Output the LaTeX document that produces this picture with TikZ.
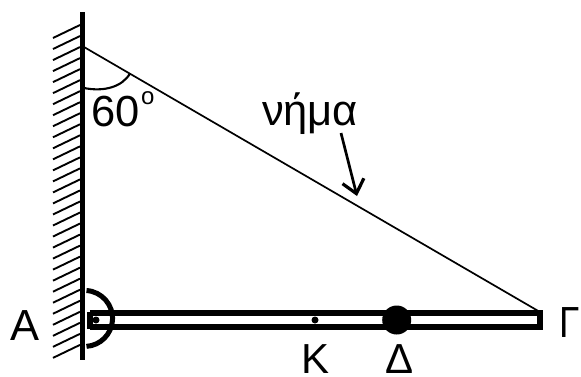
\documentclass[tikz,border=0pt]{standalone}
\usepackage{fontspec}
\setmainfont{Liberation Sans}
\usetikzlibrary{arrows.meta}
\tikzset{
  lbl/.style={anchor=base west,inner sep=0pt,outer sep=0pt,font=\fontsize{43.5}{44}\selectfont},
  wall/.style={line width=5pt},
  hatch/.style={line width=1.9pt},
  rod/.style={line width=6pt},
  thin string/.style={line width=1.7pt},
  angle arc/.style={line width=2.1pt},
  hinge/.style={line width=5pt},
  dot/.style={circle,fill=black,inner sep=0pt,minimum size=#1}
}
\begin{document}
\begin{tikzpicture}[x=1pt,y=-1pt]
\useasboundingbox (0,0) rectangle (581,376);
% wall
\coordinate (wt) at (82,12);
\coordinate (wb) at (82,360);
\foreach \i in {0,...,29}{
  \draw[hatch] (53,{38+\i*11.03}) -- (80,{25+\i*11.03});
}
\draw[wall] (wt) -- (wb);
% rod
\draw[rod] (90,313) -- (540,313);
\draw[rod] (90,327) -- (540,327);
\draw[rod,line cap=butt] (90,312) -- (90,329);
\draw[rod,line cap=butt] (539.7,310) -- (539.7,330);
% hinge
\node[dot=7pt] (pin) at (96,320) {};
\draw[hinge] (86.5,290.5) arc[start angle=-86,end angle=86,radius=28];
% points on rod
\node[dot=7pt] (k) at (315,320) {};
\node[dot=29pt] (d) at (396.7,320) {};
% string
\coordinate (s1) at (84,47);
\coordinate (s2) at (540,312);
\draw[thin string] (s1) -- (s2);
% angle
\draw[angle arc] (84,88) .. controls (104,92) and (122,87) .. (130,73.5);
% labels
\node[lbl] (a) at (10,340) {Α};
\node[lbl,font=\fontsize{42}{42}\selectfont] (kl) at (301,373.5) {Κ};
\node[lbl,font=\fontsize{42}{42}\selectfont] (dl) at (385,373.5) {Δ};
\node[lbl,xscale=.85] (gl) at (559.5,337) {Γ};
\node[lbl] (ang) at (91.5,126) {60};
\node[lbl,font=\fontsize{24}{24}\selectfont] (deg) at (141,104) {o};
\node[lbl] (nm) at (262,125) {νήμα};
% arrow
\coordinate (a1) at (341,133);
\coordinate (a2) at (357,196);
\draw[line width=2.7pt,-{Straight Barb[length=13pt,width=22pt,line width=3.2pt]}] (a1) -- (a2);
\end{tikzpicture}
\end{document}
